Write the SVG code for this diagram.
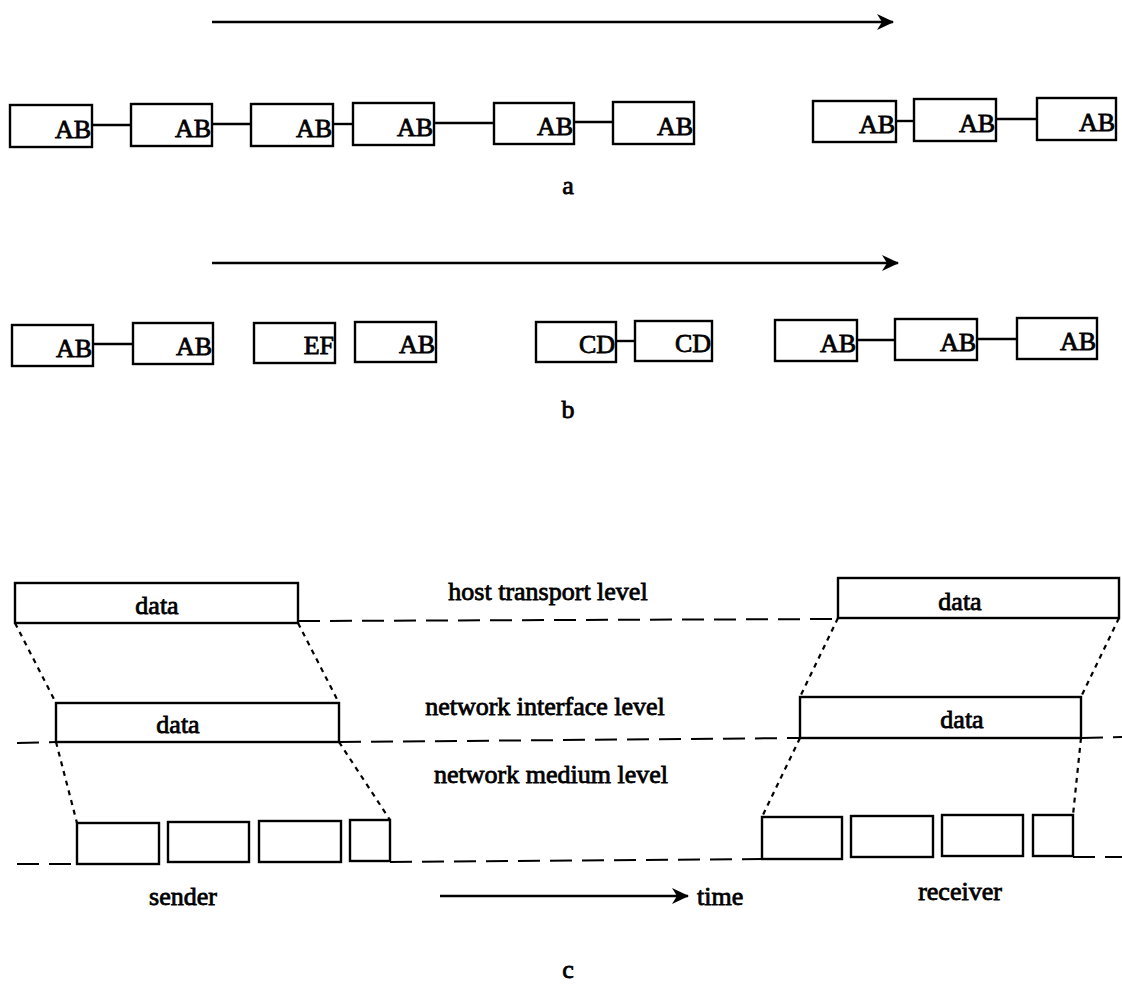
<svg xmlns="http://www.w3.org/2000/svg" width="1122" height="993" viewBox="0 0 1122 993">
<style>
text{font-family:"Liberation Serif","Times New Roman",serif;font-size:26px;fill:#000;stroke:#000;stroke-width:0.8}
.ab{text-anchor:end}
.mid{text-anchor:middle}
rect{fill:#fff;stroke:#000;stroke-width:2.4}
.conn line{stroke:#000;stroke-width:2.4}
.arr{stroke:#000;stroke-width:2.4;fill:none}
.dash{stroke:#000;stroke-width:2;stroke-dasharray:22 10;fill:none}
.dot{stroke:#000;stroke-width:2.2;stroke-dasharray:5 5;fill:none}
</style>
<defs>
<marker id="ah" markerWidth="18" markerHeight="16" refX="16" refY="8" orient="auto" markerUnits="userSpaceOnUse">
<path d="M0,0 L17,8 L0,16 L5,8 Z" fill="#000"/>
</marker>
</defs>
<g id="arrows">
<line class="arr" x1="212" y1="22" x2="893" y2="22" marker-end="url(#ah)"/>
<line class="arr" x1="212" y1="263" x2="898" y2="263" marker-end="url(#ah)"/>
<line class="arr" x1="440" y1="896" x2="688" y2="896" marker-end="url(#ah)"/>
</g>
<g id="connectors" class="conn">
<line x1="92" y1="125" x2="131" y2="125"/>
<line x1="212" y1="124" x2="251" y2="124"/>
<line x1="333" y1="124" x2="353" y2="124"/>
<line x1="434" y1="123" x2="494" y2="123"/>
<line x1="574" y1="122" x2="613" y2="122"/>
<line x1="896" y1="121" x2="914" y2="121"/>
<line x1="996" y1="119" x2="1037" y2="119"/>
<line x1="93" y1="344" x2="133" y2="344"/>
<line x1="616" y1="341" x2="635" y2="341"/>
<line x1="857" y1="340" x2="895" y2="340"/>
<line x1="977" y1="339" x2="1017" y2="339"/>
</g>
<g id="row-a">
<g id="a1"><rect x="10" y="105" width="82" height="42"/><text class="ab" x="91" y="138">AB</text></g>
<g id="a2"><rect x="131" y="104" width="81" height="42"/><text class="ab" x="211" y="137">AB</text></g>
<g id="a3"><rect x="251" y="104" width="82" height="42"/><text class="ab" x="332" y="137">AB</text></g>
<g id="a4"><rect x="353" y="103" width="81" height="42"/><text class="ab" x="433" y="136">AB</text></g>
<g id="a5"><rect x="494" y="103" width="80" height="41"/><text class="ab" x="573" y="135">AB</text></g>
<g id="a6"><rect x="613" y="102" width="81" height="42"/><text class="ab" x="693" y="135">AB</text></g>
<g id="a7"><rect x="813" y="101" width="83" height="41"/><text class="ab" x="895" y="133">AB</text></g>
<g id="a8"><rect x="914" y="99" width="82" height="42"/><text class="ab" x="995" y="132">AB</text></g>
<g id="a9"><rect x="1037" y="98" width="79" height="42"/><text class="ab" x="1115" y="131">AB</text></g>
<text id="label-a" class="mid" x="568" y="194">a</text>
</g>
<g id="row-b">
<g id="b1"><rect x="12" y="325" width="81" height="41"/><text class="ab" x="92" y="357">AB</text></g>
<g id="b2"><rect x="133" y="323" width="80" height="41"/><text class="ab" x="212" y="355">AB</text></g>
<g id="b3"><rect x="254" y="323" width="81" height="40"/><text class="ab" x="334" y="354">EF</text></g>
<g id="b4"><rect x="355" y="322" width="81" height="40"/><text class="ab" x="435" y="353">AB</text></g>
<g id="b5"><rect x="536" y="322" width="80" height="40"/><text class="ab" x="615" y="353">CD</text></g>
<g id="b6"><rect x="635" y="321" width="77" height="40"/><text class="ab" x="711" y="352">CD</text></g>
<g id="b7"><rect x="775" y="320" width="82" height="41"/><text class="ab" x="856" y="352">AB</text></g>
<g id="b8"><rect x="895" y="319" width="82" height="41"/><text class="ab" x="976" y="351">AB</text></g>
<g id="b9"><rect x="1017" y="318" width="80" height="41"/><text class="ab" x="1096" y="350">AB</text></g>
<text id="label-b" class="mid" x="568" y="418">b</text>
</g>
<g id="levels">
<path class="dash" d="M298,621 L838,619"/>
<path class="dash" d="M17,743 L56,742 M339,742 L800,738 M1081,738 L1122,737"/>
<path class="dash" d="M17,864 L77,864 M390,862 L762,859 M1073,857 L1122,857"/>
<path class="dot" d="M15,623 L56,703 M298,623 L339,703 M56,742 L77,823 M339,742 L390,820"/>
<path class="dot" d="M838,618 L800,697 M1119,618 L1081,697 M800,738 L762,817 M1081,738 L1073,815"/>
<text class="mid" x="548" y="600">host transport level</text>
<text class="mid" x="545" y="715">network interface level</text>
<text class="mid" x="551" y="783">network medium level</text>
</g>
<g id="sender">
<g id="s-host"><rect x="15" y="583" width="283" height="40"/><text class="mid" x="157" y="614">data</text></g>
<g id="s-iface"><rect x="56" y="703" width="283" height="39"/><text class="mid" x="178" y="733">data</text></g>
<g id="s-m1"><rect x="77" y="823" width="82" height="41"/></g>
<g id="s-m2"><rect x="168" y="822" width="81" height="40"/></g>
<g id="s-m3"><rect x="259" y="821" width="82" height="41"/></g>
<g id="s-m4"><rect x="350" y="820" width="40" height="41"/></g>
<text x="183" y="905" class="mid">sender</text>
</g>
<g id="receiver">
<g id="r-host"><rect x="838" y="578" width="281" height="40"/><text class="mid" x="960" y="610">data</text></g>
<g id="r-iface"><rect x="800" y="697" width="281" height="41"/><text class="mid" x="962" y="728">data</text></g>
<g id="r-m1"><rect x="762" y="817" width="80" height="42"/></g>
<g id="r-m2"><rect x="851" y="816" width="82" height="41"/></g>
<g id="r-m3"><rect x="942" y="815" width="81" height="41"/></g>
<g id="r-m4"><rect x="1033" y="815" width="40" height="41"/></g>
<text x="960" y="900" class="mid">receiver</text>
</g>
<text id="time" x="697" y="905">time</text>
<text id="label-c" class="mid" x="568" y="978">c</text>
</svg>
